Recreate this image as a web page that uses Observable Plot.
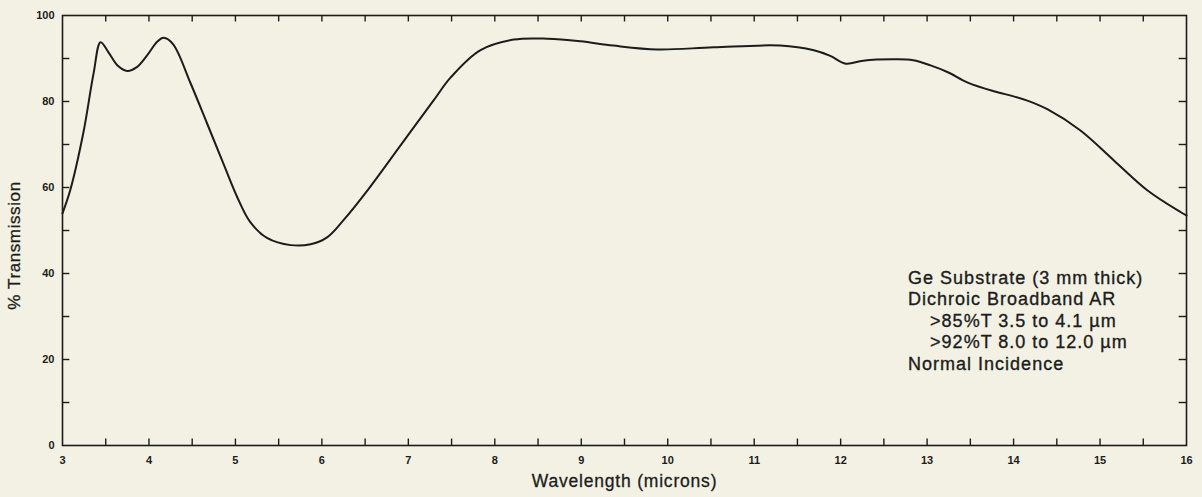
<!DOCTYPE html>
<html>
<head>
<meta charset="utf-8">
<script src="https://cdn.jsdelivr.net/npm/d3@7"></script>
<script src="https://cdn.jsdelivr.net/npm/@observablehq/plot@0.6"></script>
<style>
  html, body { margin: 0; padding: 0; background: #f3f1e3; }
  #chart svg { display: block; }
</style>
</head>
<body>
<div id="chart"></div>
<script>
// Wavelength (microns) and % transmission
const wavelength = [3.0, 3.09, 3.24, 3.36, 3.44, 3.53, 3.64, 3.75, 3.86, 3.97, 4.10, 4.17, 4.28, 4.48, 4.67, 4.86, 5.02, 5.17, 5.37, 5.64, 5.87, 6.06, 6.25, 6.53, 6.91, 7.29, 7.49, 7.83, 8.22, 8.61, 8.99, 9.37, 9.88, 10.53, 11.30, 11.69, 11.88, 12.06, 12.26, 12.61, 12.84, 13.04, 13.24, 13.47, 13.77, 14.0, 14.16, 14.39, 14.77, 15.16, 15.55, 15.93, 16.0];
const transmission = [54, 59.4, 72.6, 86.6, 93.8, 91.5, 88.3, 87.1, 88.0, 90.5, 94.0, 94.8, 93.3, 84.3, 75, 65.6, 57.8, 52, 48.2, 46.6, 46.8, 48.4, 52.4, 59.4, 69.8, 80.2, 85.6, 91.9, 94.4, 94.6, 94, 93, 92.1, 92.6, 93, 91.9, 90.6, 88.8, 89.5, 89.8, 89.6, 88.4, 86.8, 84.4, 82.4, 81.2, 80.2, 78.2, 73.3, 66.3, 59.3, 54.3, 53.5];

const xTickLabels = [3, 4, 5, 6, 7, 8, 9, 10, 11, 12, 13, 14, 15, 16];
const xMinorTicks = d3.range(3.5, 16, 0.5);
const yTickLabels = [0, 20, 40, 60, 80, 100];
const yMinorTicks = d3.range(10, 100, 10);

const xTitle = "Wavelength (microns)";
const yTitle = "% Transmission";
const noteLines = [
  "Ge Substrate (3 mm thick)",
  "Dichroic Broadband AR",
  ">85%T 3.5 to 4.1 \u00b5m",
  ">92%T 8.0 to 12.0 \u00b5m",
  "Normal Incidence"
];

const data = wavelength.map((w, i) => ({w, t: transmission[i]}));
const notes = noteLines.map((s, i) => ({s, i}));

const ink = "#1c1c1c";
const sans = "'Liberation Sans', Arial, sans-serif";

const chart = Plot.plot({
  width: 1202,
  height: 497,
  marginLeft: 62,
  marginRight: 16,
  marginTop: 15,
  marginBottom: 52,
  style: {
    background: "#f3f1e3",
    color: ink,
    fontFamily: "'Liberation Sans Narrow', 'Liberation Sans', Arial, sans-serif",
    fontSize: "11px",
    fontWeight: "bold"
  },
  x: {
    domain: [3, 16],
    ticks: xTickLabels,
    tickSize: 0,
    tickPadding: 11,
    tickFormat: d => String(d),
    label: null
  },
  y: {
    domain: [0, 100],
    ticks: yTickLabels,
    tickSize: 0,
    tickPadding: 8,
    label: null
  },
  marks: [
    Plot.frame({stroke: ink, strokeWidth: 1.6}),
    // inward ticks: bottom & top
    Plot.ruleX(xMinorTicks, {x: d => d, y1: 0, y2: 1.5, stroke: ink, strokeWidth: 1.4}),
    Plot.ruleX(xMinorTicks, {x: d => d, y1: 100, y2: 98.5, stroke: ink, strokeWidth: 1.4}),
    // inward ticks: left & right
    Plot.ruleY(yMinorTicks, {y: d => d, x1: 3, x2: 3.085, stroke: ink, strokeWidth: 1.4}),
    Plot.ruleY(yMinorTicks, {y: d => d, x1: 16, x2: 15.915, stroke: ink, strokeWidth: 1.4}),
    Plot.line(data, {x: "w", y: "t", curve: "catmull-rom", stroke: ink, strokeWidth: 2}),
    Plot.text(notes, {
      x: 12.78,
      y: d => 38.9 - d.i * 5,
      text: "s",
      textAnchor: "start",
      fontSize: 18,
      fontWeight: "normal",
      fontFamily: sans,
      fill: ink,
      stroke: ink,
      strokeWidth: 0.35,
      className: "note"
    }),
    Plot.text([xTitle], {
      frameAnchor: "bottom",
      dy: 41,
      text: d => d,
      fontSize: 17.5,
      fontWeight: "normal",
      fontFamily: sans,
      fill: ink,
      stroke: ink,
      strokeWidth: 0.3,
      className: "xtitle"
    }),
    Plot.text([yTitle], {
      frameAnchor: "left",
      textAnchor: "middle",
      dx: -48,
      dy: 15,
      rotate: -90,
      text: d => d,
      fontSize: 17,
      fontWeight: "normal",
      fontFamily: sans,
      fill: ink,
      stroke: ink,
      strokeWidth: 0.3,
      className: "ytitle"
    })
  ]
});
document.getElementById("chart").appendChild(chart);

// letter spacing for the titles and note, indent for the two ">" lines
chart.querySelectorAll("g.note text").forEach(t => {
  t.style.letterSpacing = "1px";
  if (t.textContent.startsWith(">")) t.setAttribute("dx", "22");
});
chart.querySelectorAll("g.xtitle text").forEach(t => t.style.letterSpacing = "0.8px");
chart.querySelectorAll("g.ytitle text").forEach(t => t.style.letterSpacing = "0.6px");
</script>
</body>
</html>
